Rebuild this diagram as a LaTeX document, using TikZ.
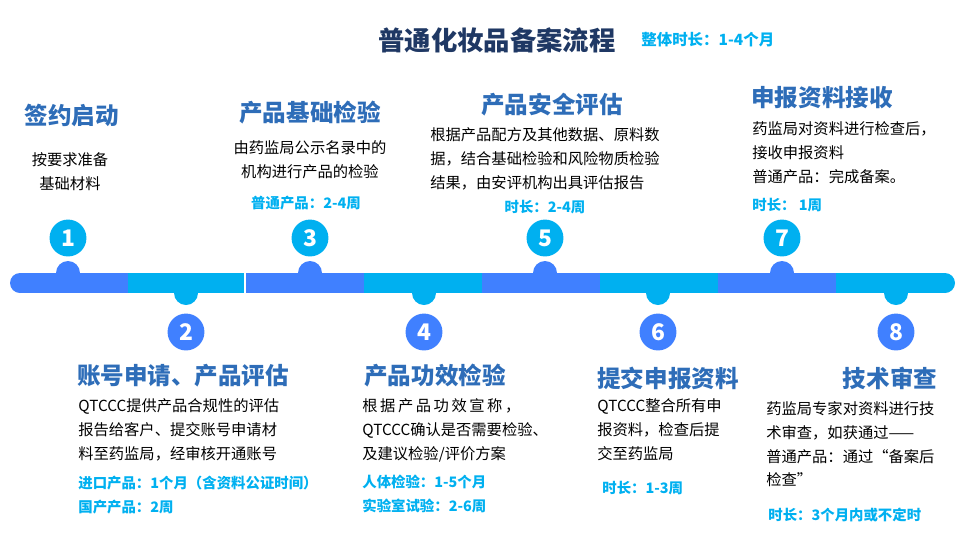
\documentclass[tikz,border=0pt]{standalone}
\usepackage{fontspec}
\setmainfont{Noto Sans CJK SC}
\definecolor{barblue}{HTML}{4080FF}
\definecolor{barcyan}{HTML}{00B0F0}
\definecolor{headblue}{HTML}{2E6DB8}
\definecolor{titlenavy}{HTML}{1F3864}
\tikzset{
  head/.style={font=\fontsize{13.4}{15}\selectfont\bfseries,text=headblue,inner sep=0pt},
  body/.style={font=\fontsize{8.7}{13.6}\selectfont,align=left,inner sep=0pt},
  note/.style={font=\fontsize{8.2}{13.6}\selectfont\bfseries,text=barcyan,inner sep=0pt},
  numdot/.style={circle,minimum size=21pt,inner sep=0pt,text=white,font=\fontsize{13}{13}\selectfont\bfseries}
}
\begin{document}
\begin{tikzpicture}[x=0.02cm,y=-0.02cm]
	\useasboundingbox (0,0) rectangle (958,535);
	%BAR
	\fill[barblue] (20,283) circle (10);
	\fill[barcyan] (945,283) circle (10);
	\foreach \i in {0,...,7}{
	\pgfmathsetmacro{\xa}{max(20,10+118*\i)}
	\pgfmathsetmacro{\xb}{min(945,128+118*\i)}
	\ifodd\i \def\c{barcyan}\else\def\c{barblue}\fi
	\fill[\c] (\xa,273) rectangle (\xb,293);
	}
	\draw[white,line width=0.6] (245,272) -- (245,294);
	%BUMPS AND NUMBERS
	\foreach \n/\x in {1/68,3/310,5/545,7/782}{
	\fill[barblue] (\x,273) circle (12);
	\node[numdot,fill=barcyan] (n\n) at (\x,238) {\n};
	}
	\foreach \n/\x in {2/186,4/424,6/658,8/896}{
	\fill[barcyan] (\x,293) circle (12);
	\node[numdot,fill=barblue] (n\n) at (\x,332) {\n};
	}
	%TITLE
	\node[font=\fontsize{15}{17}\selectfont\bfseries,text=titlenavy] (title) at (497,40) {普通化妆品备案流程};
	\node[note,font=\fontsize{8.8}{10}\selectfont\bfseries,anchor=west] (total) at (641,40) {整体时长：1-4个月};
	%STEP 1
	\node[head] (h1) at (72,115) {签约启动};
	\node[body,align=center] (b1) at (70,172) {按要求准备\\基础材料};
	%STEP 3
	\node[head] (h3) at (310,113) {产品基础检验};
	\node[body,align=center] (b3) at (310,160) {由药监局公示名录中的\\机构进行产品的检验};
	\node[note] (t3) at (306,203) {普通产品：2-4周};
	%STEP 5
	\node[head] (h5) at (552,105) {产品安全评估};
	\node[body,anchor=north west] (b5) at (430,127) {根据产品配方及其他数据、原料数\\据，结合基础检验和风险物质检验\\结果，由安评机构出具评估报告};
	\node[note] (t5) at (545,207) {时长：2-4周};
	%STEP 7
	\node[head] (h7) at (822,98) {申报资料接收};
	\node[body,anchor=north west] (b7) at (752,121) {药监局对资料进行检查后，\\接收申报资料\\普通产品：完成备案。};
	\node[note,anchor=west] (t7) at (752,205) {时长： 1周};
	%STEP 2
	\node[head] (h2) at (183,376) {账号申请、产品评估};
	\node[body,anchor=north west] (b2) at (78,398) {QTCCC提供产品合规性的评估\\报告给客户、提交账号申请材\\料至药监局，经审核开通账号};
	\node[note,anchor=west] (t2a) at (78,483) {进口产品：1个月（含资料公证时间）};
	\node[note,anchor=west] (t2b) at (78,507) {国产产品：2周};
	%STEP 4
	\node[head] (h4) at (435,376) {产品功效检验};
	\node[body,anchor=north west] (b4) at (362,398) {根\,据\,产\,品\,功\,效\,宣\,称\,，\\QTCCC确认是否需要检验、\\及建议检验/评价方案};
	\node[note,anchor=west] (t4a) at (362,482) {人体检验：1-5个月};
	\node[note,anchor=west] (t4b) at (362,506) {实验室试验：2-6周};
	%STEP 6
	\node[head] (h6) at (668,378) {提交申报资料};
	\node[body,anchor=north west] (b6) at (597,398) {QTCCC整合所有申\\报资料，检查后提\\交至药监局};
	\node[note,anchor=west] (t6) at (602,488) {时长：1-3周};
	%STEP 8
	\node[head] (h8) at (890,378) {技术审查};
	\node[body,anchor=north west] (b8) at (766,401) {药监局专家对资料进行技\\术审查，如获通过——\\普通产品：通过“备案后\\检查”};
	\node[note,anchor=west] (t8) at (768,515) {时长：3个月内或不定时};
\end{tikzpicture}
\end{document}
